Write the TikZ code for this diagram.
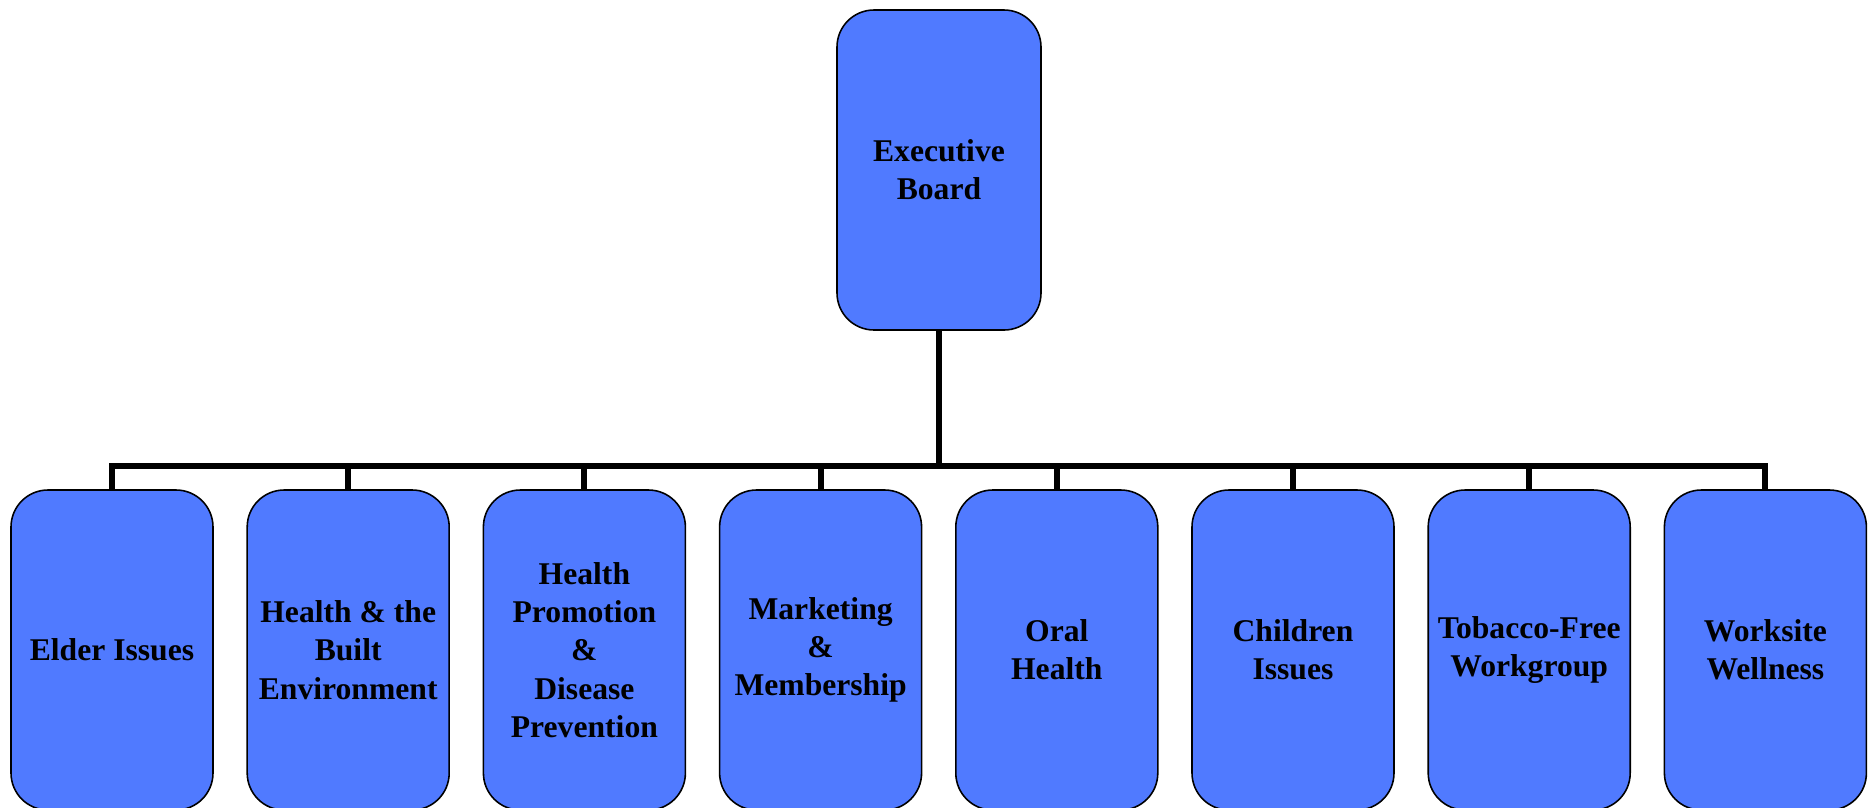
\documentclass[tikz,border=0pt]{standalone}
\usepackage{fontspec}
\setmainfont{Liberation Serif}
\usepackage{tikz}
\usetikzlibrary{positioning}
\definecolor{boxcolor}{RGB}{80,122,255}

\tikzset{
  orgbox/.style={draw=black, line width=0.45pt, fill=boxcolor, rounded corners=0.37cm,
    align=center, inner sep=1pt, font=\fontsize{9}{10.9}\selectfont\bfseries},
  topbox/.style={orgbox, minimum width=2.04cm, minimum height=3.2cm},
  subbox/.style={orgbox, minimum width=2.02cm, minimum height=3.2cm},
  link/.style={line width=1.7pt, line join=miter}
}

\begin{document}
\begin{tikzpicture}
    \useasboundingbox (0,0) rectangle (18.73,8.07);

    % Executive board
    \node[topbox] (exec) at (9.39,6.37) {Executive\\Board};

    % Committees
    \foreach \i/\txt in {1/{Elder Issues}, 2/{Health \& the\\Built\\Environment},
        3/{Health\\Promotion\\\&\\Disease\\Prevention}, 4/{Marketing\\\&\\Membership},
        5/{Oral\\Health}, 6/{Children\\Issues}, 7/{Tobacco-Free\\Workgroup},
        8/{Worksite\\Wellness}} {
        \node[subbox] (c\i) at ({1.12+2.362*(\i-1)},1.57) {\txt};
    }

    % Connectors
    \coordinate (bar) at (9.39,3.41);
    \draw[link] (exec.south) -- (bar);
    \draw[link] (c1.north) -- (c1.north |- bar) -- (c8.north |- bar) -- (c8.north);
    \foreach \i in {2,...,7} {
        \draw[link] (c\i.north) -- (c\i.north |- bar);
    }
\end{tikzpicture}
\end{document}
